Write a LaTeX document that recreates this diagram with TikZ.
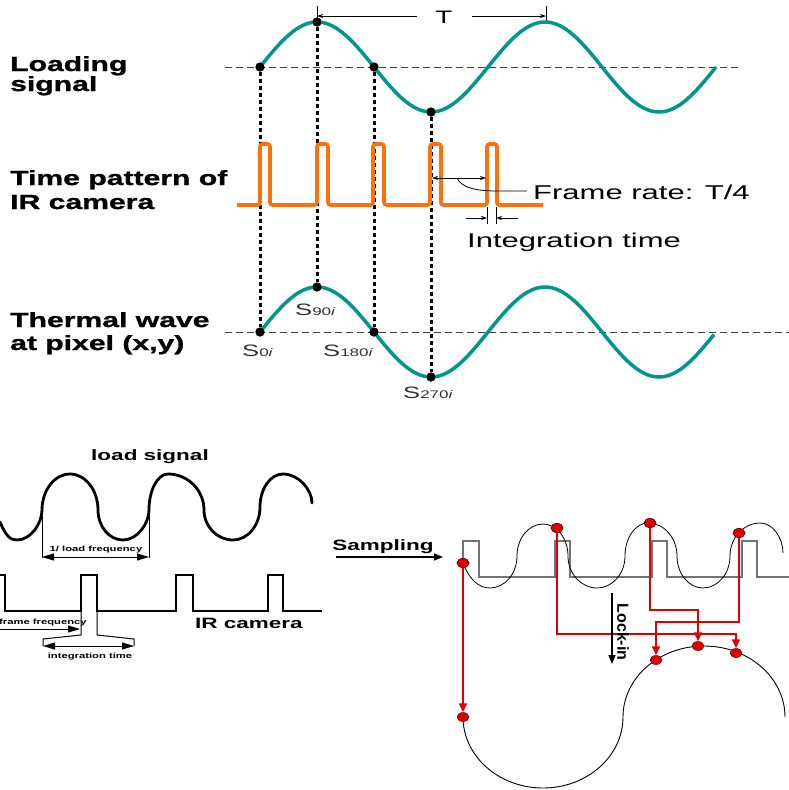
\documentclass[tikz,border=0pt]{standalone}
\usepackage{fontspec}
\setmainfont{Liberation Sans}
\newfontfamily\widebf{Liberation Sans}[FakeStretch=1.5]
\newfontfamily\heavybf{Liberation Sans}[FakeStretch=1.47, FakeBold=1.2]
\newfontfamily\widerg{Liberation Sans}[FakeStretch=1.55]
\usetikzlibrary{arrows.meta,shapes.geometric}
\definecolor{wavec}{RGB}{0,150,140}
\definecolor{pulsec}{RGB}{255,112,10}
\definecolor{rdot}{RGB}{225,0,0}
\begin{document}
\begin{tikzpicture}[x=1pt,y=-1pt,
  biglab/.style={anchor=base west, inner sep=0pt, font=\heavybf\bfseries\fontsize{20.5}{20.5}\selectfont},
  midlab/.style={inner sep=0pt, font=\widebf\bfseries\fontsize{15}{15}\selectfont},
  smalllab/.style={inner sep=0pt, font=\widebf\bfseries\fontsize{7.5}{7.5}\selectfont},
  reglab/.style={inner sep=0pt, font=\widerg\fontsize{20}{20}\selectfont},
  slab/.style={anchor=base west, inner sep=0pt, text=black!80, font=\widerg\fontsize{16.5}{16.5}\selectfont},
  dot/.style={circle, fill=black, inner sep=0pt, minimum size=9pt},
  reddot/.style={ellipse, fill=rdot, draw=black!70!red, line width=0.5pt, inner sep=0pt, minimum width=12pt, minimum height=9pt},
  dotline/.style={line width=3pt, dash pattern=on 4pt off 3pt},
  axisline/.style={line width=0.9pt, dash pattern=on 7pt off 4pt, black!75},
  twave/.style={line width=3.5pt, color=wavec},
  pline/.style={line width=3.6pt, color=pulsec, rounded corners=2.5pt},
  thinarr/.style={line width=0.8pt, -{Stealth[length=6pt,width=4pt]}},
  fatarr/.style={line width=1pt, {Triangle[length=12pt,width=7pt]}-{Triangle[length=12pt,width=7pt]}},
  redarr/.style={line width=2pt, draw=rdot, -{Triangle[length=9pt,width=8pt]}},
  blackarr/.style={line width=1.6pt, -{Triangle[length=9pt,width=7pt]}}
]
\useasboundingbox (0,0) rectangle (789,790);
\fill[white] (0,0) rectangle (789,790);

% ---------------- top figure ----------------
\node[biglab] (l1a) at (10,71) {Loading};
\node[biglab] (l1b) at (10,91) {signal};
\node[biglab] (l2a) at (10,185) {Time pattern of};
\node[biglab] (l2b) at (10,209) {IR camera};
\node[biglab] (l3a) at (10,327) {Thermal wave};
\node[biglab] (l3b) at (10,350) {at pixel (x,y)};

\coordinate (ax1a) at (225,67); \coordinate (ax1b) at (738,67);
\draw[axisline] (ax1a) -- (ax1b);
\coordinate (ax2a) at (225,332); \coordinate (ax2b) at (789,332);
\draw[axisline] (ax2a) -- (ax2b);

% T dimension
\coordinate (t1a) at (317,6); \coordinate (t1b) at (317,24);
\coordinate (t2a) at (546,6); \coordinate (t2b) at (546,24);
\draw[line width=0.8pt] (t1a) -- (t1b);
\draw[line width=0.8pt] (t2a) -- (t2b);
\node[inner sep=0pt, font=\widerg\fontsize{18}{18}\selectfont] (T) at (444,17) {T};
\coordinate (ta) at (417,16); \coordinate (tb) at (472,16);
\coordinate (tl) at (317,16); \coordinate (tr) at (546,16);
\draw[thinarr] (ta) -- (tl);
\draw[thinarr] (tb) -- (tr);

% dots
\node[dot] (a0) at (260,67) {};
\node[dot] (a90) at (317,22) {};
\node[dot] (a180) at (374,67) {};
\node[dot] (a270) at (431,112) {};
\node[dot] (b0) at (260,332) {};
\node[dot] (b90) at (317,287) {};
\node[dot] (b180) at (374,332) {};
\node[dot] (b270) at (431,377) {};

\draw[dotline] (a0) -- (b0);
\draw[dotline] (a90) -- (b90);
\draw[dotline] (a180) -- (b180);
\draw[dotline] (a270) -- (b270);

\draw[twave] plot[domain=260:716, samples=150] (\x, {67-45*sin((\x-260)/228*360)});
\draw[twave] plot[domain=260:714, samples=150] (\x, {332-45*sin((\x-260)/228*360)});

\node[dot] at (a0) {};
\node[dot] at (a90) {};
\node[dot] at (a180) {};
\node[dot] at (a270) {};
\node[dot] at (b0) {};
\node[dot] at (b90) {};
\node[dot] at (b180) {};
\node[dot] at (b270) {};

% orange pulses
\draw[pline] (237,205) -- (260,205) -- (260,144) -- (270,144) -- (270,205)
  -- (317,205) -- (317,144) -- (328,144) -- (328,205)
  -- (373,205) -- (373,144) -- (384,144) -- (384,205)
  -- (430,205) -- (430,144) -- (441,144) -- (441,205)
  -- (487,205) -- (487,144) -- (497,144) -- (497,205) -- (543,205);

% frame rate annotation
\coordinate (fa) at (432,178); \coordinate (fb) at (486,178);
\draw[line width=0.8pt, {Stealth[length=6pt,width=4pt]}-{Stealth[length=6pt,width=4pt]}] (fa) -- (fb);
\node[reglab, anchor=base west] (fr) at (533,199) {Frame rate: T/4};
\coordinate (fc) at (457,178); \coordinate (fd) at (527,191);
\draw[line width=0.8pt] (fc) .. controls (462,189) and (480,191) .. (497,191) -- (fd);

% integration time annotation
\coordinate (ia1) at (466,218); \coordinate (ia2) at (487,218);
\coordinate (ib1) at (518,218); \coordinate (ib2) at (496,218);
\draw[thinarr] (ia1) -- (ia2);
\draw[thinarr] (ib1) -- (ib2);
\coordinate (iv1) at (487,207); \coordinate (iv2) at (487,224);
\coordinate (iw1) at (496,207); \coordinate (iw2) at (496,224);
\draw[line width=0.8pt] (iv1) -- (iv2);
\draw[line width=0.8pt] (iw1) -- (iw2);
\node[reglab, anchor=base west] (it) at (467,247) {Integration time};

% S labels
\node[slab] (s0) at (242,356) {S{\fontsize{11}{11}\selectfont 0\textit{i}}};
\node[slab] (s90) at (295,315) {S{\fontsize{11}{11}\selectfont 90\textit{i}}};
\node[slab] (s180) at (323,356) {S{\fontsize{11}{11}\selectfont 180\textit{i}}};
\node[slab] (s270) at (403,398) {S{\fontsize{11}{11}\selectfont 270\textit{i}}};

% ---------------- bottom left ----------------
\node[midlab] (ls) at (150,457) {load signal};
\draw[line width=2.8pt, line join=round, line cap=round]
  (0,522) .. controls (6,536) and (10,540) .. (17,540)
  .. controls (30.75,540) and (42,523.5) .. (42,510)
  .. controls (42,490.2) and (54.6,474) .. (70,474)
  .. controls (85.4,474) and (98,490.2) .. (98,510)
  .. controls (98,526.5) and (109.25,540) .. (123,540)
  .. controls (137.3,540) and (149,523.5) .. (149,510)
  .. controls (149,490.2) and (157.55,474) .. (168,474)
  .. controls (187.8,474) and (204,490.2) .. (204,510)
  .. controls (204,526.5) and (217.05,540) .. (233,540)
  .. controls (247.85,540) and (260,525.15) .. (260,507)
  .. controls (260,488.85) and (270.35,474) .. (283,474)
  .. controls (299,474) and (312,490) .. (312,503);
\coordinate (lf1) at (42,510); \coordinate (lf1b) at (42,558);
\coordinate (lf2) at (149,510); \coordinate (lf2b) at (149,558);
\draw[line width=1pt] (lf1) -- (lf1b);
\draw[line width=1pt] (lf2) -- (lf2b);
\coordinate (lfa) at (42,557); \coordinate (lfb) at (149,557);
\draw[fatarr] (lfa) -- (lfb);
\node[smalllab] (lft) at (96,550) {1/ load frequency};

\draw[line width=2.8pt] (0,575) -- (5,575) -- (5,611) -- (81,611) -- (81,575) -- (97,575) -- (97,611)
  -- (176,611) -- (176,575) -- (193,575) -- (193,611)
  -- (268,611) -- (268,575) -- (283,575) -- (283,611) -- (322,611);
\node[midlab] (irc) at (249,623) {IR camera};

\node[smalllab] (ff) at (43,623) {frame frequency};
\coordinate (ffa) at (0,629); \coordinate (ffb) at (80,629);
\draw[line width=1pt, -{Triangle[length=12pt,width=7pt]}] (ffa) -- (ffb);

\draw[line width=1pt] (81,611) -- (81,635) -- (43,639) -- (43,646);
\draw[line width=1pt] (97,611) -- (97,635) -- (134,639) -- (134,646);
\coordinate (ita) at (43,646); \coordinate (itb) at (134,646);
\draw[fatarr] (ita) -- (itb);
\node[smalllab] (itt) at (90,657) {integration time};

% ---------------- bottom right ----------------
\node[midlab] (smp) at (383,547) {Sampling};
\coordinate (sa) at (336,557); \coordinate (sb) at (443,557);
\draw[blackarr] (sa) -- (sb);

\draw[black!55, line width=1.1pt] (463,577) -- (463,541) -- (479,541) -- (479,577)
  -- (555,577) -- (555,541) -- (570,541) -- (570,577)
  -- (652,577) -- (652,541) -- (667,541) -- (667,577)
  -- (742,577) -- (742,541) -- (757,541) -- (757,577) -- (789,577);

\draw[line width=0.8pt]
  (463,562) .. controls (468,578) and (478,588) .. (490,588)
  .. controls (504.85,588) and (517,573.6) .. (517,556)
  .. controls (517,538.4) and (528.7,524) .. (543,524)
  .. controls (556.75,524) and (568,538.4) .. (568,556)
  .. controls (568,573.6) and (581.05,588) .. (597,588)
  .. controls (612.4,588) and (625,573.6) .. (625,556)
  .. controls (625,537.85) and (635.35,523) .. (648,523)
  .. controls (663.95,523) and (677,537.85) .. (677,556)
  .. controls (677,573.6) and (688.7,588) .. (703,588)
  .. controls (717.85,588) and (730,573.6) .. (730,556)
  .. controls (730,537.85) and (743.5,523) .. (760,523)
  .. controls (773,523) and (783,538) .. (783,553);

\draw[line width=0.9pt] (463,717) arc[start angle=180, end angle=0, x radius=80, y radius=71]
  arc[start angle=180, end angle=360, x radius=81, y radius=71];

\node[reddot] (r1) at (463,563) {};
\node[reddot] (r2) at (557,528) {};
\node[reddot] (r3) at (650,523) {};
\node[reddot] (r4) at (739,533) {};
\node[reddot] (q1) at (463,717) {};
\node[reddot] (q2) at (656,660) {};
\node[reddot] (q3) at (698,646) {};
\node[reddot] (q4) at (736,653) {};

\coordinate (c2a) at (557,634); \coordinate (c2b) at (736,634);
\coordinate (c3a) at (650,610); \coordinate (c3b) at (698,610);
\coordinate (c4a) at (739,622); \coordinate (c4b) at (656,622);
\draw[redarr] (r1) -- (q1);
\draw[redarr] (r2) -- (c2a) -- (c2b) -- (q4);
\draw[redarr] (r3) -- (c3a) -- (c3b) -- (q3);
\draw[redarr] (r4) -- (c4a) -- (c4b) -- (q2);

\node[reddot] at (r1) {};
\node[reddot] at (r2) {};
\node[reddot] at (r3) {};
\node[reddot] at (r4) {};

\coordinate (lka) at (612,593); \coordinate (lkb) at (612,664);
\draw[blackarr] (lka) -- (lkb);
\node[inner sep=0pt, rotate=-90, font=\bfseries\fontsize{16}{16}\selectfont] (lk) at (623,632) {Lock-in};
\end{tikzpicture}
\end{document}
